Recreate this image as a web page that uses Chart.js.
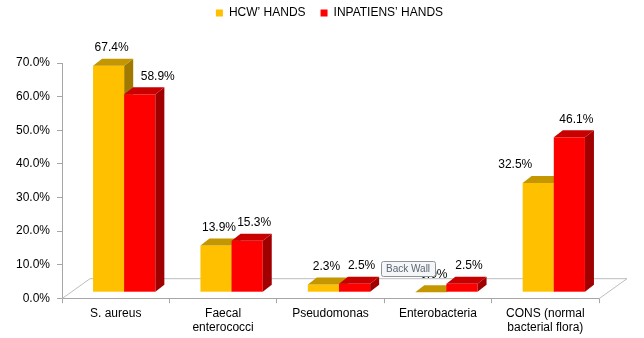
<!DOCTYPE html>
<html>
<head>
<meta charset="utf-8">
<script src="https://cdn.jsdelivr.net/npm/chart.js@4.4.1/dist/chart.umd.min.js"></script>
<style>
  html, body { margin: 0; padding: 0; background: #fff; }
  #wrap { width: 644px; height: 338px; }
</style>
</head>
<body>
<div id="wrap"><canvas id="chart" width="644" height="338"></canvas></div>
<script>
// --- data ---
const categories = ['S. aureus', ['Faecal', 'enterococci'], 'Pseudomonas', 'Enterobacteria', ['CONS (normal', 'bacterial flora)']];
const hcwHands = [67.4, 13.9, 2.3, 0.0, 32.5];
const inpatientHands = [58.9, 15.3, 2.5, 2.5, 46.1];
const seriesNames = ['HCW’ HANDS', 'INPATIENS’ HANDS'];
const yMax = 70;
const yStep = 10;

const FONT = '"Liberation Sans", Arial, sans-serif';
const front = ['#FFC000', '#FF0000'];
const topFace = ['#C49600', '#C80000'];
const sideFace = ['#A07A00', '#A00000'];

// bar offset (front faces sit a bit right/up of the axis) and 3d depth
const SHIFT_X = 8.5, SHIFT_Y = -6;
const DEPTH_X = 9, DEPTH_Y = -7;
const FLOOR_X = 28, FLOOR_Y = -20;
const LABEL_NUDGE = [3, 7];

// --- legend: taller box, centred on the whole canvas ---
const legendSpace = {
    id: 'legendSpace',
    beforeLayout(chart) {
        const lg = chart.legend;
        if (!lg || lg._patched) return;
        const fit = lg.fit;
        lg.fit = function() {
            fit.call(this);
            this.height = 63;
        };
        lg._patched = true;
    },
    afterLayout(chart) {
        const lg = chart.legend;
        if (!lg) return;
        lg.left = 15;
        lg.right = chart.width;
        lg.width = lg.right - lg.left;
        lg.top = -8;
    }
};

// --- 3d floor, bars and labels ---
const bars3d = {
    id: 'bars3d',
    beforeDatasetsDraw(chart) {
        const ctx = chart.ctx;
        const a = chart.chartArea;
        ctx.save();
        ctx.strokeStyle = '#BDBDBD';
        ctx.lineWidth = 1;
        ctx.beginPath();
        ctx.moveTo(a.left, a.bottom + 0.5);
        ctx.lineTo(a.left + FLOOR_X, a.bottom + FLOOR_Y + 0.5);
        ctx.lineTo(a.right + FLOOR_X, a.bottom + FLOOR_Y + 0.5);
        ctx.lineTo(a.right, a.bottom + 0.5);
        ctx.stroke();
        ctx.restore();
    },
    beforeDatasetDraw() {
        return false;
    },
    afterDatasetsDraw(chart) {
        const ctx = chart.ctx;
        const metas = [chart.getDatasetMeta(0), chart.getDatasetMeta(1)];
        const boxes = [];
        ctx.save();
        for (let i = 0; i < categories.length; i++) {
            boxes[i] = [];
            for (let d = 0; d < 2; d++) {
                const p = metas[d].data[i].getProps(['x', 'y', 'base', 'width'], true);
                const l = p.x - p.width / 2 + SHIFT_X;
                const r = l + p.width;
                const t = p.y + SHIFT_Y;
                const b = p.base + SHIFT_Y;
                boxes[i][d] = { l, r, t, b, cx: (l + r) / 2 };

                ctx.fillStyle = front[d];
                ctx.fillRect(l, t, r - l, b - t);

                ctx.fillStyle = sideFace[d];
                ctx.beginPath();
                ctx.moveTo(r, b);
                ctx.lineTo(r + DEPTH_X, b + DEPTH_Y);
                ctx.lineTo(r + DEPTH_X, t + DEPTH_Y);
                ctx.lineTo(r, t);
                ctx.closePath();
                ctx.fill();

                ctx.fillStyle = topFace[d];
                ctx.beginPath();
                ctx.moveTo(l, t);
                ctx.lineTo(l + DEPTH_X, t + DEPTH_Y);
                ctx.lineTo(r + DEPTH_X, t + DEPTH_Y);
                ctx.lineTo(r, t);
                ctx.closePath();
                ctx.fill();
            }
        }

        // value labels, pushed aside when the neighbour bar is in the way
        ctx.font = '12px ' + FONT;
        ctx.fillStyle = '#000';
        ctx.textAlign = 'center';
        ctx.textBaseline = 'middle';
        const values = [hcwHands, inpatientHands];
        for (let i = 0; i < categories.length; i++) {
            for (let d = 0; d < 2; d++) {
                const bx = boxes[i][d];
                const other = boxes[i][1 - d];
                const ly = bx.t - 18;
                let lx = bx.cx + LABEL_NUDGE[d];
                if (other.t + DEPTH_Y < ly) {
                    lx = d === 0 ? bx.cx - 23 : bx.cx + 18;
                }
                ctx.fillText(values[d][i].toFixed(1) + '%', lx, ly);
            }
        }

        // the "Back Wall" hover tip left in the picture
        const tipX = 381, tipY = 261, tipW = 54, tipH = 15;
        ctx.fillStyle = '#F5F6F8';
        ctx.strokeStyle = '#8E949C';
        ctx.lineWidth = 1;
        ctx.beginPath();
        ctx.roundRect(tipX + 0.5, tipY + 0.5, tipW, tipH, 2);
        ctx.fill();
        ctx.stroke();
        ctx.font = '10px ' + FONT;
        ctx.fillStyle = '#5B6573';
        ctx.textAlign = 'left';
        ctx.fillText('Back Wall', tipX + 5, tipY + tipH / 2 + 1);
        ctx.restore();
    }
};

new Chart(document.getElementById('chart'), {
    type: 'bar',
    data: {
        labels: categories,
        datasets: [
            { label: seriesNames[0], data: hcwHands, backgroundColor: front[0], borderWidth: 0 },
            { label: seriesNames[1], data: inpatientHands, backgroundColor: front[1], borderWidth: 0 }
        ]
    },
    options: {
        responsive: false,
        animation: false,
        devicePixelRatio: 1,
        layout: { padding: { left: 0, right: 45, top: 0, bottom: 0 } },
        datasets: { bar: { categoryPercentage: 0.58, barPercentage: 1 } },
        plugins: {
            legend: {
                position: 'top',
                labels: {
                    boxWidth: 7, boxHeight: 7, padding: 15,
                    color: '#000',
                    font: { family: FONT, size: 12 }
                }
            },
            tooltip: { enabled: false }
        },
        scales: {
            x: {
                grid: { drawOnChartArea: false, drawTicks: true, tickLength: 5, color: '#A6A6A6', offset: true },
                border: { display: true, color: '#A6A6A6' },
                ticks: {
                    color: '#000', maxRotation: 0, autoSkip: false, padding: 3,
                    font: { family: FONT, size: 12 }
                }
            },
            y: {
                min: 0, max: yMax,
                afterFit(scale) { scale.width = 62; },
                grid: { drawOnChartArea: false, drawTicks: true, tickLength: 5, color: '#A6A6A6' },
                border: { display: true, color: '#A6A6A6' },
                ticks: {
                    stepSize: yStep, color: '#000', padding: 7,
                    font: { family: FONT, size: 12 },
                    callback: v => v.toFixed(1) + '%'
                }
            }
        }
    },
    plugins: [legendSpace, bars3d]
});
</script>
</body>
</html>
